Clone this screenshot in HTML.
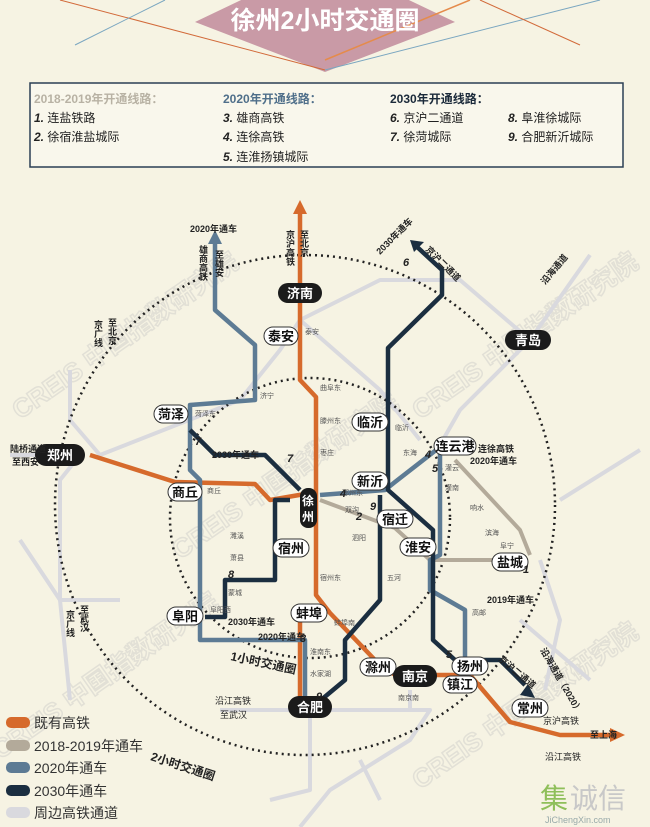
<!DOCTYPE html>
<html><head><meta charset="utf-8"><style>
body{margin:0;background:#f6f3e3;}
svg{display:block;font-family:"Liberation Sans","Noto Sans CJK SC",sans-serif;}
</style></head><body>
<svg width="650" height="827" viewBox="0 0 650 827" xmlns="http://www.w3.org/2000/svg">
<rect width="650" height="827" fill="#f6f3e3"/>
<!-- watermarks -->
<g font-size="26" font-weight="bold" fill="none" stroke="#e2e0d6" stroke-width="1.5">
<text x="20" y="420" transform="rotate(-35 20 420)">CREIS 中国指数研究院</text>
<text x="180" y="560" transform="rotate(-35 180 560)">CREIS 中国指数研究院</text>
<text x="420" y="420" transform="rotate(-35 420 420)">CREIS 中国指数研究院</text>
<text x="420" y="790" transform="rotate(-35 420 790)">CREIS 中国指数研究院</text>
<text x="0" y="760" transform="rotate(-35 0 760)">CREIS 中国指数研究院</text>
</g>
<!-- title decorations -->
<polygon points="195,22 325,-40 455,22 325,72" fill="#c99aa6"/>
<line x1="60" y1="0" x2="325" y2="70" stroke="#d26a3a" stroke-width="1"/>
<line x1="75" y1="45" x2="165" y2="0" stroke="#7aa6c0" stroke-width="1"/>
<line x1="325" y1="70" x2="600" y2="0" stroke="#7aa6c0" stroke-width="1"/>
<line x1="480" y1="0" x2="580" y2="45" stroke="#d26a3a" stroke-width="1"/>
<line x1="325" y1="60" x2="470" y2="0" stroke="#e58b4b" stroke-width="1.5"/>
<text x="325" y="29" text-anchor="middle" font-size="25" font-weight="bold" fill="#fff">徐州2小时交通圈</text>
<!-- legend box -->
<rect x="30" y="83" width="593" height="84" fill="#f9f7ec" stroke="#2b3f55" stroke-width="1.5"/>
<g font-size="12">
<text x="34" y="103" fill="#b8b2a4" font-weight="bold">2018-2019年开通线路：</text>
<text x="34" y="122" fill="#222"><tspan font-weight="bold" font-style="italic">1.</tspan> 连盐铁路</text>
<text x="34" y="141" fill="#222"><tspan font-weight="bold" font-style="italic">2.</tspan> 徐宿淮盐城际</text>
<text x="223" y="103" fill="#4f6f8a" font-weight="bold">2020年开通线路：</text>
<text x="223" y="122" fill="#222"><tspan font-weight="bold" font-style="italic">3.</tspan> 雄商高铁</text>
<text x="223" y="141" fill="#222"><tspan font-weight="bold" font-style="italic">4.</tspan> 连徐高铁</text>
<text x="223" y="161" fill="#222"><tspan font-weight="bold" font-style="italic">5.</tspan> 连淮扬镇城际</text>
<text x="390" y="103" fill="#1b2a3a" font-weight="bold">2030年开通线路：</text>
<text x="390" y="122" fill="#222"><tspan font-weight="bold" font-style="italic">6.</tspan> 京沪二通道</text>
<text x="390" y="141" fill="#222"><tspan font-weight="bold" font-style="italic">7.</tspan> 徐菏城际</text>
<text x="508" y="122" fill="#222"><tspan font-weight="bold" font-style="italic">8.</tspan> 阜淮徐城际</text>
<text x="508" y="141" fill="#222"><tspan font-weight="bold" font-style="italic">9.</tspan> 合肥新沂城际</text>
</g>
<!-- peripheral lines -->
<g fill="none" stroke="#d9d9de" stroke-width="4" stroke-linejoin="round">
<polyline points="70,370 70,420 100,455 240,400 280,350 300,320 380,280 460,280 530,340"/>
<polyline points="55,455 10,455"/>
<polyline points="80,455 60,480 60,600 70,700"/>
<polyline points="530,340 460,410 440,445"/>
<polyline points="530,340 590,255"/>
<polyline points="560,500 640,450"/>
<polyline points="300,320 380,390 420,440"/>
<polyline points="540,560 560,620 545,690"/>
<polyline points="315,710 220,710"/>
<polyline points="310,715 310,790 270,800"/>
<polyline points="315,710 430,710 410,740 330,790 300,827"/>
<polyline points="360,760 380,800"/>
<polyline points="410,690 410,710"/>
<polyline points="20,540 60,600 120,600"/>
<polyline points="590,680 520,620"/>
</g>
<!-- circles -->
<circle cx="305" cy="505" r="250" fill="none" stroke="#222" stroke-width="2.5" stroke-dasharray="2,4"/>
<circle cx="310" cy="518" r="140" fill="none" stroke="#222" stroke-width="2.5" stroke-dasharray="2,4"/>
<!-- 2018-2019 lines -->
<g fill="none" stroke="#b3aa9a" stroke-width="4" stroke-linejoin="round">
<polyline points="455,460 520,530 530,555"/>
<polyline points="320,500 395,528 430,560 520,560"/>
</g>
<!-- orange existing -->
<g fill="none" stroke="#d66a2c" stroke-width="4.5" stroke-linejoin="round">
<polyline points="300,208 300,380 316,397 316,595 330,613 375,660 395,675 470,675 510,722 560,735 612,735"/>
<polyline points="90,455 175,482 255,484 270,500 305,494"/>
<polyline points="320,618 300,620 300,700"/>
</g>
<polygon points="300,200 293,214 307,214" fill="#d66a2c"/>
<polygon points="625,735 610,728 610,742" fill="#d66a2c"/>
<!-- 2020 lines -->
<g fill="none" stroke="#5d7b94" stroke-width="4.5" stroke-linejoin="round">
<polyline points="215,240 215,310 255,345 255,400 190,405 190,470 200,480 200,640 305,640 305,700"/>
<polyline points="320,495 385,490 395,482 440,447"/>
<polyline points="440,450 440,555 430,560 430,590 465,610 465,680 460,690"/>
</g>
<polygon points="215,230 208,244 222,244" fill="#5d7b94"/>
<!-- 2030 lines -->
<g fill="none" stroke="#1b2e40" stroke-width="4.5" stroke-linejoin="round">
<polyline points="415,245 442,270 442,295 388,348 388,490 433,530 433,640 455,660 500,660 525,685"/>
<polyline points="380,495 380,600 345,640 345,680 315,705"/>
<polyline points="190,430 215,455 265,455 285,475 300,490"/>
<polyline points="290,500 275,500 275,580 225,580 225,617 205,617"/>
</g>
<polygon points="410,240 424,242 414,252" fill="#1b2e40"/>
<polygon points="535,698 520,695 528,684" fill="#1b2e40"/>
<!-- small station labels -->
<g font-size="7" fill="#555">
<text x="305" y="334">泰安</text><text x="320" y="390">曲阜东</text><text x="320" y="423">滕州东</text><text x="320" y="455">枣庄</text>
<text x="260" y="398">济宁</text><text x="195" y="416">菏泽东</text><text x="207" y="493">商丘</text>
<text x="320" y="580">宿州东</text><text x="334" y="625">蚌埠南</text><text x="310" y="654">淮南东</text><text x="310" y="676">水家湖</text>
<text x="395" y="430">临沂</text><text x="403" y="455">东海</text><text x="445" y="470">灌云</text><text x="445" y="490">灌南</text>
<text x="342" y="495">邳州东</text><text x="345" y="512">双沟</text><text x="352" y="540">泗阳</text><text x="387" y="580">五河</text>
<text x="230" y="538">濉溪</text><text x="230" y="560">萧县</text><text x="228" y="595">蒙城</text><text x="210" y="612">阜阳西</text>
<text x="470" y="510">响水</text><text x="485" y="535">滨海</text><text x="500" y="548">阜宁</text><text x="472" y="615">高邮</text>
<text x="398" y="700">南京南</text>
</g>
<!-- city labels -->
<g font-size="13" font-weight="bold" text-anchor="middle">
<rect x="278" y="283" width="44" height="20" rx="10" fill="#1b1b1b"/><text x="300" y="298" fill="#fff">济南</text>
<rect x="264" y="327" width="34" height="18" rx="9" fill="#fff" stroke="#333"/><text x="281" y="341" fill="#111">泰安</text>
<rect x="505" y="330" width="46" height="20" rx="10" fill="#1b1b1b"/><text x="528" y="345" fill="#fff">青岛</text>
<rect x="35" y="444" width="50" height="22" rx="11" fill="#1b1b1b"/><text x="60" y="460" fill="#fff">郑州</text>
<rect x="154" y="405" width="34" height="18" rx="9" fill="#fff" stroke="#333"/><text x="171" y="419" fill="#111">菏泽</text>
<rect x="168" y="483" width="34" height="18" rx="9" fill="#fff" stroke="#333"/><text x="185" y="497" fill="#111">商丘</text>
<rect x="352" y="413" width="36" height="18" rx="9" fill="#fff" stroke="#333"/><text x="370" y="427" fill="#111">临沂</text>
<rect x="434" y="437" width="42" height="18" rx="9" fill="#fff" stroke="#333"/><text x="455" y="451" fill="#111">连云港</text>
<rect x="352" y="472" width="36" height="18" rx="9" fill="#fff" stroke="#333"/><text x="370" y="486" fill="#111">新沂</text>
<rect x="300" y="488" width="17" height="40" rx="8" fill="#1b1b1b"/><text x="308" y="505" fill="#fff" font-size="12">徐</text><text x="308" y="521" fill="#fff" font-size="12">州</text>
<rect x="377" y="510" width="36" height="18" rx="9" fill="#fff" stroke="#333"/><text x="395" y="524" fill="#111">宿迁</text>
<rect x="400" y="538" width="36" height="18" rx="9" fill="#fff" stroke="#333"/><text x="418" y="552" fill="#111">淮安</text>
<rect x="492" y="553" width="36" height="18" rx="9" fill="#fff" stroke="#333"/><text x="510" y="567" fill="#111">盐城</text>
<rect x="273" y="539" width="36" height="18" rx="9" fill="#fff" stroke="#333"/><text x="291" y="553" fill="#111">宿州</text>
<rect x="167" y="607" width="36" height="18" rx="9" fill="#fff" stroke="#333"/><text x="185" y="621" fill="#111">阜阳</text>
<rect x="291" y="604" width="36" height="18" rx="9" fill="#fff" stroke="#333"/><text x="309" y="618" fill="#111">蚌埠</text>
<rect x="360" y="658" width="36" height="18" rx="9" fill="#fff" stroke="#333"/><text x="378" y="672" fill="#111">滁州</text>
<rect x="393" y="665" width="44" height="22" rx="11" fill="#1b1b1b"/><text x="415" y="681" fill="#fff">南京</text>
<rect x="452" y="657" width="36" height="18" rx="9" fill="#fff" stroke="#333"/><text x="470" y="671" fill="#111">扬州</text>
<rect x="443" y="676" width="34" height="17" rx="8" fill="#fff" stroke="#333"/><text x="460" y="689" fill="#111">镇江</text>
<rect x="512" y="699" width="36" height="18" rx="9" fill="#fff" stroke="#333"/><text x="530" y="713" fill="#111">常州</text>
<rect x="288" y="696" width="44" height="22" rx="11" fill="#1b1b1b"/><text x="310" y="712" fill="#fff">合肥</text>
</g>
<!-- line numbers -->
<g font-size="11" font-weight="bold" font-style="italic" fill="#222">
<text x="195" y="445">7</text><text x="287" y="462">7</text><text x="228" y="578">8</text><text x="300" y="642">3</text>
<text x="340" y="497">4</text><text x="356" y="520">2</text><text x="370" y="510">9</text><text x="316" y="700">9</text>
<text x="425" y="458">4</text><text x="432" y="472">5</text><text x="446" y="658">5</text><text x="523" y="573">1</text><text x="403" y="266">6</text>
</g>
<!-- misc labels -->
<g font-size="9" fill="#222" font-weight="bold">
<text x="190" y="232">2020年通车</text>
<text x="478" y="452">连徐高铁</text><text x="470" y="464">2020年通车</text>
<text x="212" y="458">2030年通车</text>
<text x="228" y="625">2030年通车</text>
<text x="258" y="640">2020年通车</text>
<text x="487" y="603">2019年通车</text>
<text x="590" y="738">至上海</text>
<text x="543" y="724" font-weight="normal">京沪高铁</text>
<text x="545" y="760" font-weight="normal">沿江高铁</text>
<text x="215" y="704" font-weight="normal">沿江高铁</text>
<text x="220" y="718" font-weight="normal">至武汉</text>
<text x="10" y="452">陆桥通道</text><text x="12" y="465">至西安</text>
<text x="380" y="255" transform="rotate(-45 380 255)">2030年通车</text>
<text x="425" y="250" transform="rotate(45 425 250)">京沪二通道</text>
<text x="545" y="285" transform="rotate(-50 545 285)">沿海通道</text>
<text x="498" y="660" transform="rotate(40 498 660)">京沪二通道</text>
<text x="540" y="650" transform="rotate(60 540 650)">沿海通道（2020）</text>
</g>
<g font-size="9" fill="#222" font-weight="bold">
<text x="290" y="230" writing-mode="tb">京沪高铁</text>
<text x="304" y="230" writing-mode="tb">至北京</text>
<text x="203" y="245" writing-mode="tb">雄商高铁</text>
<text x="219" y="250" writing-mode="tb">至雄安</text>
<text x="98" y="320" writing-mode="tb">京广线</text>
<text x="112" y="318" writing-mode="tb">至北京</text>
<text x="70" y="610" writing-mode="tb">京广线</text>
<text x="84" y="605" writing-mode="tb">至武汉</text>
</g>
<text x="230" y="660" font-size="12" font-weight="bold" fill="#222" transform="rotate(12 230 660)">1小时交通圈</text>
<text x="150" y="760" font-size="12" font-weight="bold" fill="#222" transform="rotate(18 150 760)">2小时交通圈</text>
<!-- bottom legend -->
<g font-size="14" fill="#333">
<rect x="6" y="717" width="24" height="11" rx="5" fill="#d66a2c"/><text x="34" y="728">既有高铁</text>
<rect x="6" y="740" width="24" height="11" rx="5" fill="#b3aa9a"/><text x="34" y="751">2018-2019年通车</text>
<rect x="6" y="762" width="24" height="11" rx="5" fill="#5d7b94"/><text x="34" y="773">2020年通车</text>
<rect x="6" y="785" width="24" height="11" rx="5" fill="#1b2e40"/><text x="34" y="796">2030年通车</text>
<rect x="6" y="807" width="24" height="11" rx="5" fill="#d9d9de"/><text x="34" y="818">周边高铁通道</text>
</g>
<text x="540" y="808" font-size="28" fill="#8fbf5a">集</text>
<text x="570" y="808" font-size="28" fill="#c8c8c8">诚信</text>
<text x="545" y="823" font-size="9" fill="#9aa">JiChengXin.com</text>
</svg>
</body></html>
